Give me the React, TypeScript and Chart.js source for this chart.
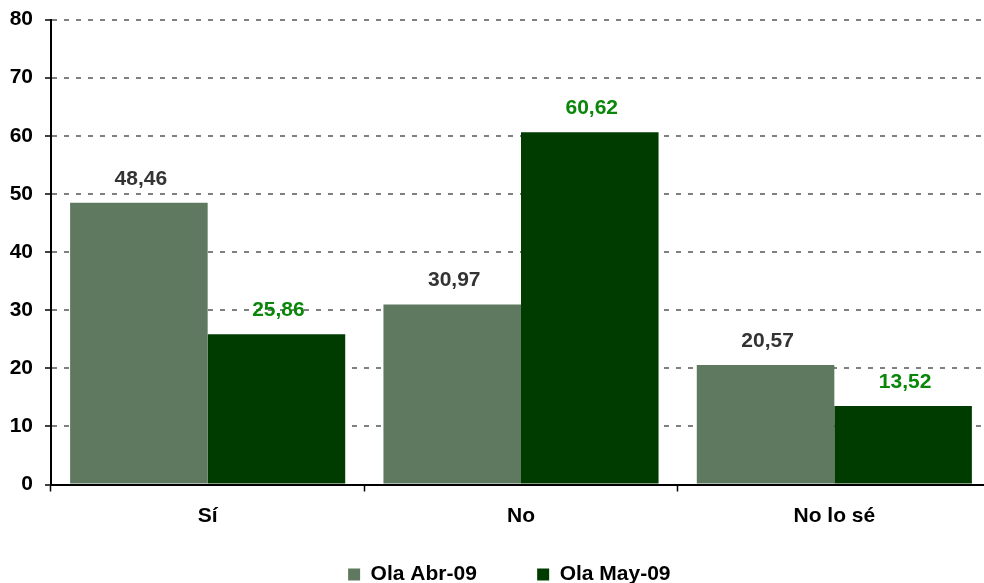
import React, { useEffect, useRef } from "react";
import { Chart, registerables } from "chart.js";

Chart.register(...registerables);

const categories = ["Sí", "No", "No lo sé"];
const seriesNames = ["Ola Abr-09", "Ola May-09"];
const abrValues = [48.46, 30.97, 20.57];
const mayValues = [25.86, 60.62, 13.52];
const yTicks = [0, 10, 20, 30, 40, 50, 60, 70, 80];

const FONT = "'Liberation Sans', Arial, sans-serif";
const FS = 21;

const labelColors = ["#333333", "#0a870a"];

const valueLabels = {
  id: "valueLabels",
  afterDatasetsDraw(chart: any) {
    const ctx = chart.ctx;
    ctx.save();
    ctx.font = `bold ${FS}px ${FONT}`;
    ctx.textAlign = "center";
    ctx.textBaseline = "middle";
    chart.data.datasets.forEach((ds: any, di: number) => {
      const meta = chart.getDatasetMeta(di);
      ctx.fillStyle = labelColors[di];
      meta.data.forEach((el: any, i: number) => {
        const v = ds.data[i] as number;
        const txt = v.toFixed(2).replace(".", ",");
        ctx.fillText(txt, el.x + 2, el.y - 24);
      });
    });
    ctx.restore();
  },
};

export default function App() {
  const ref = useRef<HTMLCanvasElement>(null);
  useEffect(() => {
    document.body.style.margin = "0";
    document.body.style.overflow = "hidden";
    const chart = new Chart(ref.current!, {
      type: "bar",
      data: {
        labels: categories,
        datasets: [
          {
            label: seriesNames[0],
            data: abrValues,
            backgroundColor: "#5f7860",
            categoryPercentage: 0.878,
            barPercentage: 1,
          },
          {
            label: seriesNames[1],
            data: mayValues,
            backgroundColor: "#003c00",
            categoryPercentage: 0.878,
            barPercentage: 1,
          },
        ],
      },
      options: {
        animation: false,
        responsive: false,
        devicePixelRatio: 1,
        layout: { padding: { left: 0, right: 9, top: 19.5, bottom: -12 } },
        plugins: {
          tooltip: { enabled: false },
          legend: {
            position: "bottom",
            fullSize: false,
            labels: {
              font: { family: FONT, size: FS, weight: "bold" },
              color: "#000000",
              boxWidth: 12,
              boxHeight: 12,
              padding: 2,
              generateLabels(chart: any) {
                const items = Chart.defaults.plugins.legend.labels.generateLabels(chart);
                items.forEach((it: any, i: number) => {
                  it.lineWidth = 0;
                  if (i === 0) it.text = it.text + "          ";
                  if (i === 1) it.text = it.text + "    ";
                });
                return items;
              },
            },
          },
        },
        scales: {
          x: {
            type: "category",
            offset: true,
            grid: {
              display: true,
              offset: true,
              drawOnChartArea: false,
              drawTicks: true,
              tickLength: 7,
              tickColor: "#000000",
              tickWidth: 1.5,
              color: "#000000",
            },
            border: { display: true, color: "#000000", width: 2 },
            ticks: {
              color: "#000000",
              font: { family: FONT, size: FS, weight: "bold" },
              padding: 12,
            },
            afterFit(scale: any) {
              scale.height = 77.5;
              scale.paddingLeft = 0;
              scale.paddingRight = 0;
            },
          },
          y: {
            min: 0,
            max: 80,
            afterBuildTicks(scale: any) {
              scale.ticks = yTicks.map((v) => ({ value: v }));
            },
            grid: {
              display: true,
              color: "#808080",
              lineWidth: 2,
              drawTicks: true,
              tickLength: 6,
              tickColor: "#000000",
              tickWidth: 1.5,
              tickBorderDash: [],
            },
            border: { display: true, color: "#000000", width: 2, dash: [5, 7] },
            ticks: {
              color: "#000000",
              font: { family: FONT, size: FS, weight: "bold" },
              padding: 12,
            },
            afterFit(scale: any) {
              scale.width = 51;
              scale.paddingTop = 0;
              scale.paddingBottom = 0;
            },
          },
        },
      },
      plugins: [valueLabels],
    } as any);
    return () => chart.destroy();
  }, []);
  return (
    <div style={{ position: "fixed", left: 0, top: 0, width: 984, height: 583, overflow: "hidden", background: "#ffffff" }}>
      <canvas ref={ref} width={1000} height={583} style={{ display: "block", width: 1000, height: 583 }} />
    </div>
  );
}
